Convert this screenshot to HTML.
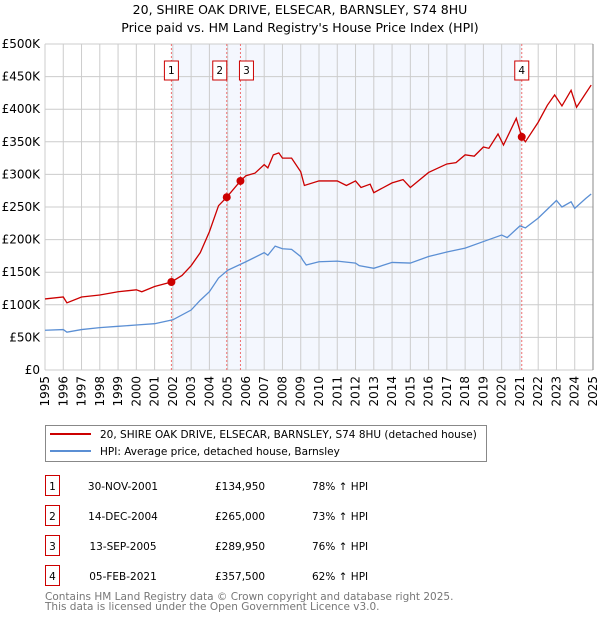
<!DOCTYPE html>
<html><head><meta charset="utf-8"><style>
body{margin:0;background:#fff;font-family:"DejaVu Sans","Liberation Sans",sans-serif;}
svg text{font-family:"DejaVu Sans","Liberation Sans",sans-serif;}
</style></head><body>
<svg id="chart" width="600" height="620" xmlns="http://www.w3.org/2000/svg">
<text x="300" y="14" text-anchor="middle" font-size="12.5">20, SHIRE OAK DRIVE, ELSECAR, BARNSLEY, S74 8HU</text>
<text x="300" y="32" text-anchor="middle" font-size="12.5">Price paid vs. HM Land Registry's House Price Index (HPI)</text>
<g id="plot"></g>
<g>
<rect x="45.5" y="425.5" width="441" height="36" fill="#fff" stroke="#888"/>
<line x1="50" y1="434" x2="91" y2="434" stroke="#cc0000" stroke-width="2"/>
<text x="100" y="438" font-size="10.5">20, SHIRE OAK DRIVE, ELSECAR, BARNSLEY, S74 8HU (detached house)</text>
<line x1="50" y1="451" x2="91" y2="451" stroke="#5b8fd4" stroke-width="2"/>
<text x="100" y="455" font-size="10.5">HPI: Average price, detached house, Barnsley</text>
</g>
<g id="table"></g>
<text x="45" y="600" font-size="10.5" fill="#777">Contains HM Land Registry data © Crown copyright and database right 2025.</text>
<text x="45" y="610" font-size="10.5" fill="#777">This data is licensed under the Open Government Licence v3.0.</text>
</svg>
<script>
const yTicks=[0,50,100,150,200,250,300,350,400,450,500];
const xYears=[1995,1996,1997,1998,1999,2000,2001,2002,2003,2004,2005,2006,2007,2008,2009,2010,2011,2012,2013,2014,2015,2016,2017,2018,2019,2020,2021,2022,2023,2024,2025];
const hpiT=[1995,1996,1996.2,1997,1998,1999,2000,2001,2002,2003,2003.5,2004,2004.5,2005,2006,2007,2007.2,2007.6,2008,2008.5,2009,2009.1,2009.3,2010,2011,2012,2012.2,2013,2014,2015,2016,2017,2018,2019,2020,2020.3,2021,2021.3,2022,2023,2023.3,2023.8,2024,2024.6,2024.9];
const hpiV=[61,62,58,62,65,67,69,71,77,92,107,120,141,153,166,180,176,190,186,185,174,169,161,166,167,164,160,156,165,164,174,181,187,197,207,203,221,218,233,260,250,258,248,263,270];
const ppT=[1995,1996,1996.2,1997,1998,1999,2000,2000.3,2001,2001.92,2002.5,2003,2003.5,2004,2004.5,2004.95,2005.7,2006,2006.5,2007,2007.2,2007.5,2007.8,2008,2008.5,2009,2009.2,2010,2011,2011.5,2012,2012.3,2012.8,2013,2014,2014.6,2015,2016,2017,2017.5,2018,2018.5,2019,2019.3,2019.8,2020.1,2020.8,2021.1,2021.3,2022,2022.5,2022.9,2023.3,2023.8,2024.1,2024.5,2024.9];
const ppV=[109,112,103,112,115,120,123,120,128,135,145,160,180,212,252,265,290,298,302,315,310,330,333,325,325,304,283,290,290,283,290,280,285,272,287,292,280,303,316,318,330,328,342,340,362,345,386,357.5,350,380,406,422,405,429,403,420,437];
const saleLabels=["1","2","3","4"];
const saleT=[2001.92,2004.95,2005.7,2021.1];
const saleV=[134.95,265,289.95,357.5];
const saleDates=["30-NOV-2001","14-DEC-2004","13-SEP-2005","05-FEB-2021"];
const salePrices=["£134,950","£265,000","£289,950","£357,500"];
const saleHpi=["78% ↑ HPI","73% ↑ HPI","76% ↑ HPI","62% ↑ HPI"];

const NS="http://www.w3.org/2000/svg";
const X0=45,X1=593,Y0=370,Y1=44;
const sx=t=>X0+(t-1995)*(X1-X0)/30;
const sy=v=>Y0-v*(Y0-Y1)/500;
const plot=document.getElementById('plot');
function mk(tag,attrs,parent){const e=document.createElementNS(NS,tag);for(const k in attrs)e.setAttribute(k,attrs[k]);(parent||plot).appendChild(e);return e;}
let e;
e=mk('rect',{x:X0,y:Y1,width:X1-X0,height:Y0-Y1,fill:'#fff'});


e=mk('rect',{x:sx(saleT[0]),y:Y1,width:sx(saleT[3])-sx(saleT[0]),height:Y0-Y1,fill:'#f4f7fe'});


yTicks.forEach(v=>{
 e=mk('line',{x1:X0,x2:X1,y1:sy(v),y2:sy(v),stroke:'#cccccc'});
 
 
 e=mk('text',{x:40,y:sy(v)+4,'text-anchor':'end','font-size':'12'});
 e.textContent=v===0?'£0':'£'+v+'K';
 
 
});
xYears.forEach(y=>{
 e=mk('line',{x1:sx(y),x2:sx(y),y1:Y1,y2:Y0,stroke:'#cccccc'});
 
 
 e=mk('text',{x:0,y:0,'text-anchor':'end','font-size':'12',transform:`translate(${sx(y)+4},${Y0+6}) rotate(-90)`});
 e.textContent=y;
 
 
});
saleT.forEach((t,i)=>{
 e=mk('line',{x1:sx(t),x2:sx(t),y1:Y1,y2:Y0,stroke:'#f07070','stroke-dasharray':'2,2'});
 
 
});
e=mk('polyline',{points:hpiT.map((t,i)=>sx(t)+','+sy(hpiV[i])).join(' '),fill:'none',stroke:'#5b8fd4','stroke-width':1.3});


e=mk('polyline',{points:ppT.map((t,i)=>sx(t)+','+sy(ppV[i])).join(' '),fill:'none',stroke:'#cc0000','stroke-width':1.3});


saleT.forEach((t,i)=>{
 e=mk('circle',{cx:sx(t),cy:sy(saleV[i]),r:4,fill:'#cc0000'});
 
 
 const bx=(i===1)?sx(t)-14:(i===2?sx(t)-1:sx(t)-7);
 e=mk('rect',{x:bx,y:61,width:14,height:19,fill:'#fff',stroke:'#cc0000'});
 
 
 e=mk('text',{x:bx+7,y:74,'text-anchor':'middle','font-size':'10.5'});
 e.textContent=saleLabels[i];
 
 
});
e=mk('line',{x1:X1,x2:X1,y1:Y1,y2:Y0,stroke:'#888'});


const tb=document.getElementById('table');
saleLabels.forEach((l,i)=>{
 const y=476+i*30;
 e=mk('rect',{x:45.5,y:y-0.5,width:14,height:20,fill:'#fff',stroke:'#cc0000'},tb);
 
 
 e=mk('text',{x:52.5,y:y+14,'text-anchor':'middle','font-size':'10.5'},tb);
 e.textContent=l;
 
 
 e=mk('text',{x:123,y:y+14,'text-anchor':'middle','font-size':'10.5'},tb);
 e.textContent=saleDates[i];
 
 
 e=mk('text',{x:215,y:y+14,'font-size':'10.5'},tb);
 e.textContent=salePrices[i];
 
 
 e=mk('text',{x:312,y:y+14,'font-size':'10.5'},tb);
 e.textContent=saleHpi[i];
 
 
});
</script>
</body></html>
